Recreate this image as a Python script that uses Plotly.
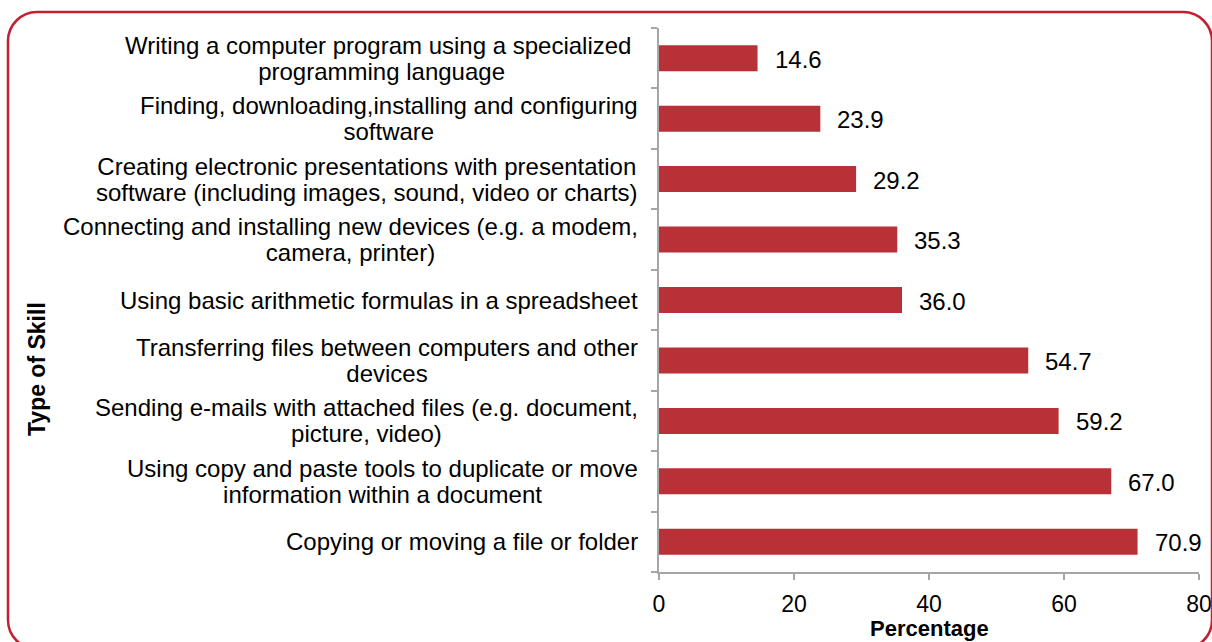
import plotly.graph_objects as go

categories = [
    ["Writing a computer program using a specialized ", "programming language"],
    ["Finding, downloading,installing and configuring", "software"],
    ["Creating electronic presentations with presentation", "software (including images, sound, video or charts)"],
    ["Connecting and installing new devices (e.g. a modem,", "camera, printer)"],
    ["Using basic arithmetic formulas in a spreadsheet"],
    ["Transferring files between computers and other", "devices"],
    ["Sending e-mails with attached files (e.g. document,", "picture, video)"],
    ["Using copy and paste tools to duplicate or move", "information within a document"],
    ["Copying or moving a file or folder"],
]
values = [14.6, 23.9, 29.2, 35.3, 36.0, 54.7, 59.2, 67.0, 70.9]
x_ticks = [0, 20, 40, 60, 80]

W, H = 1212, 642
L, R, T, B = 659, 1199, 28, 572
FONT = "Liberation Sans, Arial, sans-serif"
BAR = "#B83137"
AXIS = "#A6A6A6"
BORDER = "#C21F30"

def px(x):
    return (x - L) / (R - L)

def py(y):
    return (B - y) / (B - T)

fig = go.Figure(go.Bar(
    x=values, y=list(range(len(categories))), orientation="h",
    marker=dict(color=BAR, line=dict(width=0)),
    width=0.43, hoverinfo="skip",
))

def big(s, size=24):
    return f'<span style="font-size:{size}px">{s}</span>'

ann = []
for i, (c, v) in enumerate(zip(categories, values)):
    text = "<br>".join(big(line) for line in c)
    ann.append(dict(x=0, xref="paper", y=i, yref="y", text=text, showarrow=False,
                    xanchor="right", yanchor="middle", align="center", xshift=-19,
                    font=dict(family=FONT, size=20, color="#000")))
    ann.append(dict(x=v, xref="x", y=i, yref="y", text=f"{v:.1f}", showarrow=False,
                    xanchor="left", yanchor="middle", xshift=15, yshift=-1,
                    font=dict(family=FONT, size=24, color="#000")))

ann.append(dict(x=px(37), y=py(369), xref="paper", yref="paper", text="<b>Type of Skill</b>",
                textangle=-90, showarrow=False, xanchor="center", yanchor="middle",
                font=dict(family=FONT, size=23, color="#000")))
ann.append(dict(x=0.5, y=py(628), xref="paper", yref="paper", text="<b>Percentage</b>",
                showarrow=False, xanchor="center", yanchor="middle",
                font=dict(family=FONT, size=22, color="#000")))

# rounded border
bl, bt, br, bb, r = 8, 12, 1212, 649, 29
k = 0.5523 * r
def P(x, y):
    return f"{px(x):.5f},{py(y):.5f}"
path = (f"M {P(bl+r, bt)} L {P(br-r, bt)} "
        f"C {P(br-r+k, bt)} {P(br, bt+r-k)} {P(br, bt+r)} "
        f"L {P(br, bb-r)} "
        f"C {P(br, bb-r+k)} {P(br-r+k, bb)} {P(br-r, bb)} "
        f"L {P(bl+r, bb)} "
        f"C {P(bl+r-k, bb)} {P(bl, bb-r+k)} {P(bl, bb-r)} "
        f"L {P(bl, bt+r)} "
        f"C {P(bl, bt+r-k)} {P(bl+r-k, bt)} {P(bl+r, bt)} Z")

fig.update_layout(
    width=W, height=H,
    margin=dict(l=L, r=W - R, t=T, b=H - B, autoexpand=False),
    paper_bgcolor="white", plot_bgcolor="white",
    showlegend=False,
    annotations=ann,
    shapes=[dict(type="path", path=path, xref="paper", yref="paper",
                 line=dict(color=BORDER, width=2.5), fillcolor="rgba(0,0,0,0)", layer="above")],
    xaxis=dict(range=[0, 80], tickvals=x_ticks, ticktext=[str(t) for t in x_ticks],
               showgrid=False, zeroline=False, showline=True, linecolor=AXIS, linewidth=1.5,
               ticks="outside", ticklen=6, tickcolor=AXIS, tickwidth=1.5, automargin=False,
               ticklabelstandoff=5,
               tickfont=dict(family=FONT, size=23, color="#000")),
    yaxis=dict(range=[len(categories) - 0.5, -0.5], tickmode="array",
               tickvals=list(range(len(categories))), showticklabels=False,
               showgrid=False, zeroline=False, showline=True, linecolor=AXIS, linewidth=1.5,
               ticks="", automargin=False,
               minor=dict(tickvals=[i - 0.5 for i in range(len(categories) + 1)],
                          ticks="outside", ticklen=6, tickcolor=AXIS, tickwidth=1.5)),
)

fig.write_html("out.html", config={"displayModeBar": False},
               post_script="document.body.style.margin='0';document.body.style.overflow='hidden';")
